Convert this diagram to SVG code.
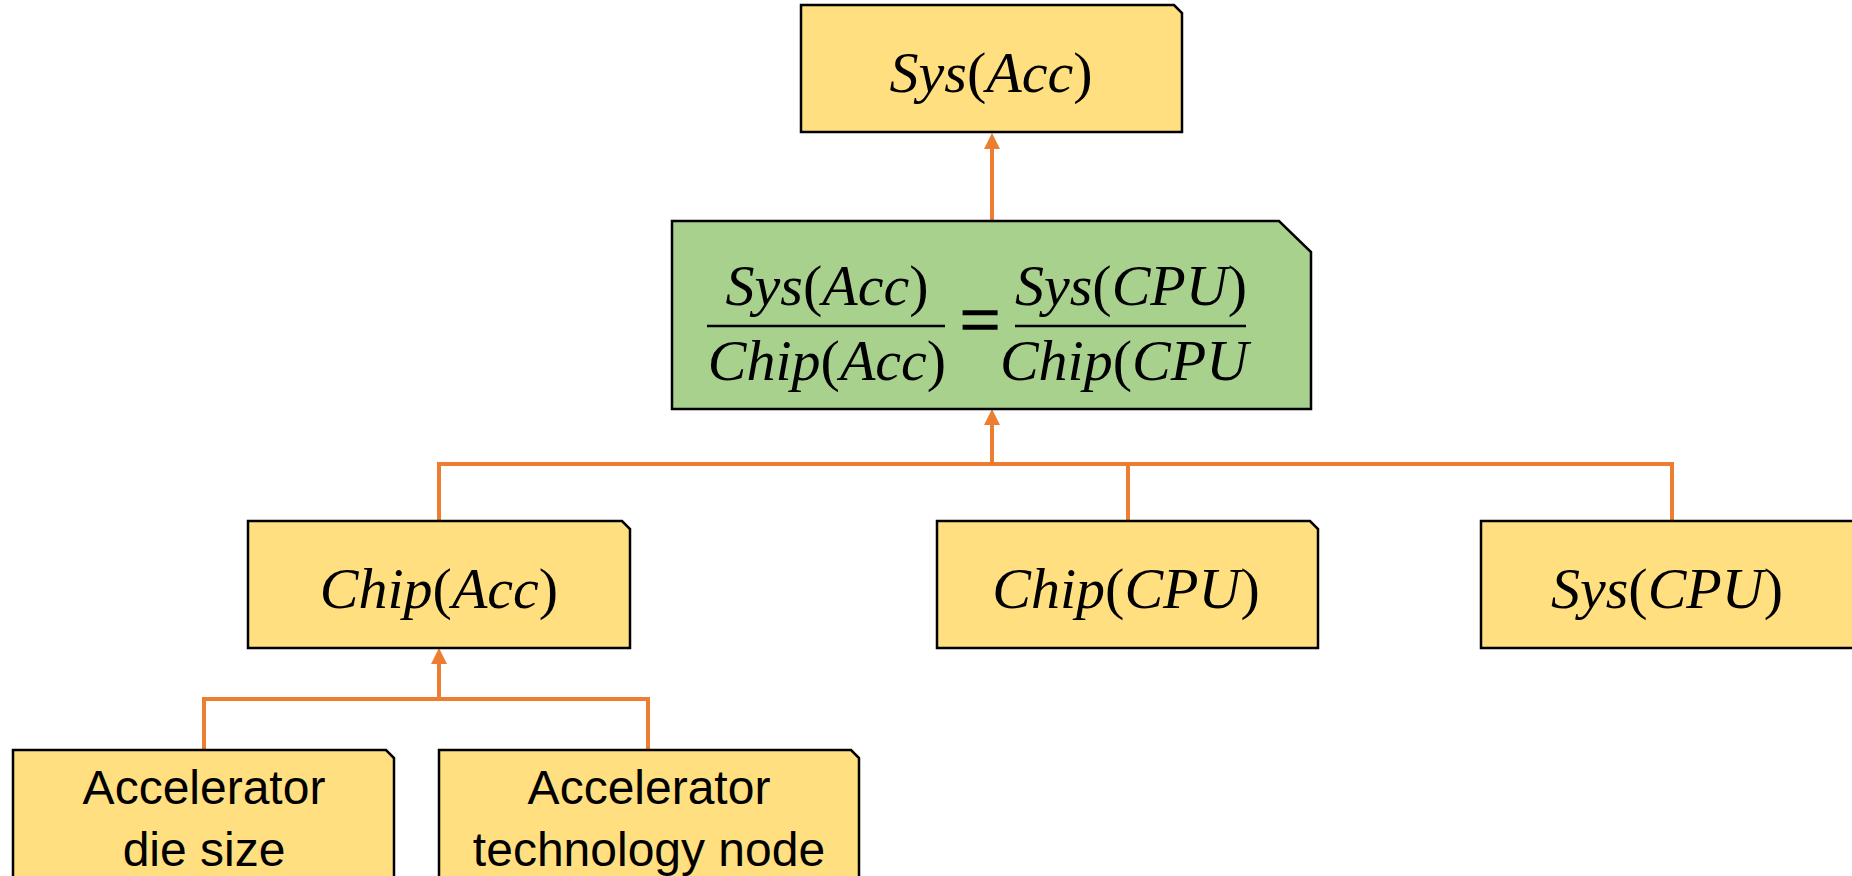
<svg xmlns="http://www.w3.org/2000/svg" width="1852" height="876" viewBox="0 0 1852 876">
<defs>
<style>
.box{fill:#FFDF80;stroke:#000;stroke-width:2.5}
.gbox{fill:#A9D18E;stroke:#000;stroke-width:2.5}
.m{font-family:"Liberation Serif","Times New Roman",serif;font-style:italic;font-size:58px;fill:#000;text-anchor:middle}
.u{font-style:normal}
.eq{font-family:"Liberation Serif","Times New Roman",serif;font-size:72px;fill:#000;stroke:#000;stroke-width:1.5;text-anchor:middle}
.t{font-family:"Liberation Sans",Arial,sans-serif;font-size:48px;fill:#000;text-anchor:middle}
.c{fill:none;stroke:#ED7D31;stroke-width:4}
.ah{fill:#ED7D31}
.bar{stroke:#000;stroke-width:2.5}
</style>
</defs>
<g id="connectors">
<line class="c" x1="992" y1="221" x2="992" y2="146"/>
<path class="ah" d="M992,133 l-8,16 h16 Z"/>
<polyline class="c" points="439,521 439,464 1672,464 1672,521"/>
<line class="c" x1="1128" y1="464" x2="1128" y2="521"/>
<line class="c" x1="992" y1="464" x2="992" y2="422"/>
<path class="ah" d="M992,409 l-8,16 h16 Z"/>
<polyline class="c" points="204,750 204,699 648,699 648,750"/>
<line class="c" x1="439" y1="699" x2="439" y2="661"/>
<path class="ah" d="M439,648 l-8,16 h16 Z"/>
</g>
<g id="sys-acc">
<path class="box" d="M801,5 H1174 L1182,13 V132 H801 Z"/>
<text class="m" x="991" y="92">Sys<tspan class="u">(</tspan>Acc<tspan class="u">)</tspan></text>
</g>
<g id="ratio">
<path class="gbox" d="M672,221 H1279 L1311,252 V409 H672 Z"/>
<text class="m" x="827" y="305">Sys<tspan class="u">(</tspan>Acc<tspan class="u">)</tspan></text>
<line class="bar" x1="707" y1="326" x2="945" y2="326"/>
<text class="m" x="827" y="380">Chip<tspan class="u">(</tspan>Acc<tspan class="u">)</tspan></text>
<text class="eq" x="980" y="344">=</text>
<text class="m" x="1131" y="305">Sys<tspan class="u">(</tspan>CPU<tspan class="u">)</tspan></text>
<line class="bar" x1="1015" y1="326" x2="1246" y2="326"/>
<text class="m" x="1124" y="380">Chip<tspan class="u">(</tspan>CPU</text>
</g>
<g id="chip-acc">
<path class="box" d="M248,521 H622 L630,529 V648 H248 Z"/>
<text class="m" x="439" y="608">Chip<tspan class="u">(</tspan>Acc<tspan class="u">)</tspan></text>
</g>
<g id="chip-cpu">
<path class="box" d="M937,521 H1310 L1318,529 V648 H937 Z"/>
<text class="m" x="1126" y="608">Chip<tspan class="u">(</tspan>CPU<tspan class="u">)</tspan></text>
</g>
<g id="sys-cpu">
<path class="box" d="M1481,521 H1854 L1862,529 V648 H1481 Z"/>
<text class="m" x="1667" y="608">Sys<tspan class="u">(</tspan>CPU<tspan class="u">)</tspan></text>
</g>
<g id="die-size">
<path class="box" d="M13,750 H386 L394,758 V900 H13 Z"/>
<text class="t" x="204" y="804">Accelerator</text>
<text class="t" x="204" y="866">die size</text>
</g>
<g id="tech-node">
<path class="box" d="M439,750 H851 L859,758 V900 H439 Z"/>
<text class="t" x="649" y="804">Accelerator</text>
<text class="t" x="649" y="866">technology node</text>
</g>
</svg>
